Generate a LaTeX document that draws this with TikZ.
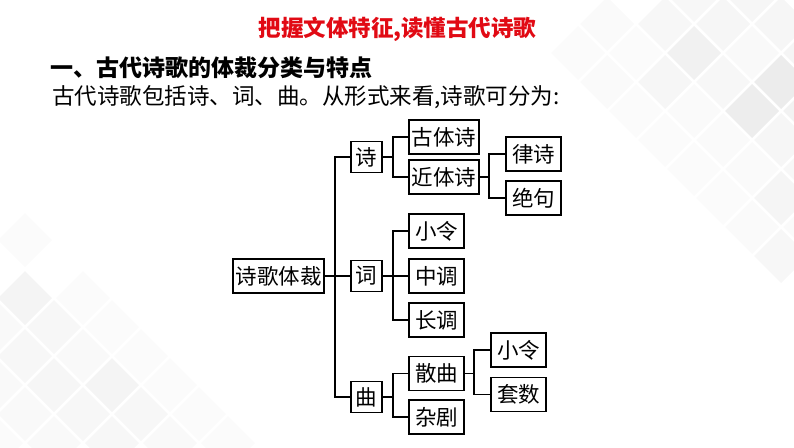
\documentclass[tikz,border=0pt]{standalone}
\usepackage{fontspec}
\newfontfamily\cjk{Noto Sans CJK SC}
\definecolor{titlered}{RGB}{225,10,20}
\begin{document}
\begin{tikzpicture}[x=1pt,y=-1pt,
  bx/.style={draw=black,line width=1.8pt,inner sep=0pt,minimum height=34pt,
    font=\cjk\fontsize{21.5}{24}\selectfont},
  w1/.style={bx,minimum width=31pt,minimum height=31pt},
  w2/.style={bx,minimum width=55pt},
  w3/.style={bx,minimum width=70pt},
  w4/.style={bx,minimum width=91pt},
  conn/.style={line width=1.5pt,black},
  dia/.style={fill=black,fill opacity=#1,draw=none}]
\useasboundingbox (0,0) rectangle (794,447);
\fill[white] (0,0) rectangle (794,447);
% faint diamond background
\begin{scope}
\clip (0,0) rectangle (794,447);
\foreach \m/\n/\s in {0/0/0.055,-1/-1/0.03,1/-1/0.035,2/0/0.025,3/1/0.075,2/2/0.07,3/-1/0.035,1/1/0.03,-1/1/0.035,-3/1/0.02,0/2/0.02,1/3/0.02,3/3/0.035,2/4/0.02,3/5/0.04,2/6/0.02,3/7/0.03,0/4/0.015,1/5/0.015,-2/2/0.015,-2/0/0.015,0/-2/0.03,2/-2/0.035,4/0/0.04,4/2/0.05,4/4/0.03,4/6/0.02,-3/-1/0.02,-4/0/0.015,-1/3/0.015}
  \fill[dia=\s] ({694+29*\m},{53+29*\n-27}) -- ++(27,27) -- ++(-27,27) -- ++(-27,-27) -- cycle;
\foreach \m/\n/\s in {0/0/0.045,1/1/0.03,0/2/0.03,-1/1/0.025,2/2/0.025,3/3/0.045,1/3/0.035,2/4/0.03,4/4/0.03,5/5/0.025,6/4/0.015,3/1/0.015,4/2/0.015,0/4/0.025,-1/3/0.025,1/5/0.025,3/5/0.03,-1/5/0.015,5/3/0.015,2/0/0.015,0/-2/0.015,7/5/0.015}
  \fill[dia=\s] ({25+29*\m},{298+29*\n-27}) -- ++(27,27) -- ++(-27,27) -- ++(-27,-27) -- cycle;
\end{scope}
% texts
\node[font=\cjk\bfseries\fontsize{22.5}{26}\selectfont,text=titlered,inner sep=0pt] (title) at (397.5,29) {把握文体特征,读懂古代诗歌};
\node[font=\cjk\bfseries\fontsize{23}{27}\selectfont,anchor=west,inner sep=0pt] (head) at (50,67.5) {一、古代诗歌的体裁分类与特点};
\node[font=\cjk\fontsize{22.5}{26}\selectfont,anchor=west,inner sep=0pt] (body) at (52,97) {古代诗歌包括诗、词、曲。从形式来看,诗歌可分为:};
% nodes
\node[w4] (root) at (278.5,276) {诗歌体裁};
\node[w1] (shi) at (366.5,157) {诗};
\node[w1] (ci) at (366.5,276) {词};
\node[w1] (qu) at (366.5,397) {曲};
\node[w3] (gu) at (444,137) {古体诗};
\node[w3] (jin) at (444,177) {近体诗};
\node[w2] (lv) at (533.5,154) {律诗};
\node[w2] (jue) at (533.5,198) {绝句};
\node[w2] (xl1) at (436.5,231) {小令};
\node[w2] (zd) at (436.5,276) {中调};
\node[w2] (cd) at (436.5,320) {长调};
\node[w2] (sq) at (436.5,373.5) {散曲};
\node[w2] (zj) at (436.5,417) {杂剧};
\node[w2] (xl2) at (518.5,350) {小令};
\node[w2] (ts) at (518.5,394.5) {套数};
% bracket coordinates
\coordinate (t0) at (335,276);
\coordinate (b1) at (393,157);
\coordinate (b2) at (489,177);
\coordinate (b3) at (393,276);
\coordinate (b4) at (393,397);
\coordinate (b5) at (474,373.5);
% connectors
\draw[conn] (root) -- (ci);
\draw[conn] (shi.west) -| (t0) |- (qu.west);
\draw[conn] (shi) -- (b1);
\draw[conn] (gu.west) -| (b1) |- (jin.west);
\draw[conn] (jin) -- (b2);
\draw[conn] (lv.west) -| (b2) |- (jue.west);
\draw[conn] (ci) -- (b3);
\draw[conn] (xl1.west) -| (b3) |- (cd.west);
\draw[conn] (b3) -- (zd);
\draw[conn] (qu) -- (b4);
\draw[conn] (sq.west) -| (b4) |- (zj.west);
\draw[conn] (sq) -- (b5);
\draw[conn] (xl2.west) -| (b5) |- (ts.west);
\end{tikzpicture}
\end{document}
